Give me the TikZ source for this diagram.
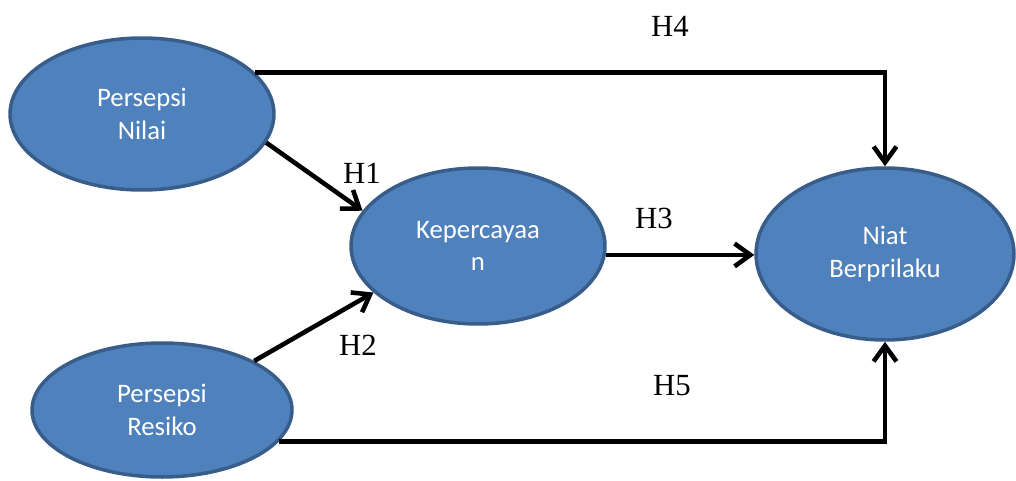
\documentclass[tikz,border=0pt]{standalone}
\usepackage{fontspec}
\setmainfont{Liberation Serif}
\newfontfamily\ovalfont{Carlito}
\usetikzlibrary{arrows.meta, shapes.geometric}

\definecolor{ovalfill}{HTML}{4F81BD}
\definecolor{ovalline}{HTML}{385D8A}

\begin{document}
\begin{tikzpicture}[
        x=0.02cm, y=0.02cm,
        construct/.style={ellipse, draw=ovalline, line width=2pt, fill=ovalfill, inner sep=0pt, text=white, align=center, font=\ovalfont\fontsize{15.2pt}{18.4pt}\selectfont},
        path_arrow/.style={line width=2.6pt, -{Straight Barb[length=9pt, width=13pt]}},
        hyp_label/.style={font=\fontsize{17.5pt}{20pt}\selectfont}
    ]

        \useasboundingbox (0,0) rectangle (1016,-480);

        % Constructs
        \node[construct, minimum width=5.28cm, minimum height=3.04cm] (pn) at (142,-114) {Persepsi\\Nilai};
        \node[construct, minimum width=5.2cm, minimum height=2.68cm] (pr) at (162,-410) {Persepsi\\Resiko};
        \node[construct, minimum width=5.08cm, minimum height=3.12cm] (kp) at (478,-246) {Kepercayaa\\n};
        \node[construct, minimum width=5.16cm, minimum height=3.44cm] (nb) at (885,-254) {Niat\\Berprilaku};

        % Paths
        \draw[path_arrow] (pn.-13) -- (kp.163);
        \draw[path_arrow] (pr.28) -- (kp.204);
        \draw[path_arrow] (kp.-4) -- (kp.-4 -| nb.west);
        \draw[path_arrow] (pn.20) -| (nb.north);
        \draw[path_arrow] (pr.-15) -| (nb.south);

        % Labels
        \node[hyp_label] (h1) at (362,-173) {H1};
        \node[hyp_label] (h2) at (358,-345) {H2};
        \node[hyp_label] (h3) at (654,-218) {H3};
        \node[hyp_label] (h4) at (670,-26) {H4};
        \node[hyp_label] (h5) at (672,-386) {H5};

    \end{tikzpicture}
\end{document}
